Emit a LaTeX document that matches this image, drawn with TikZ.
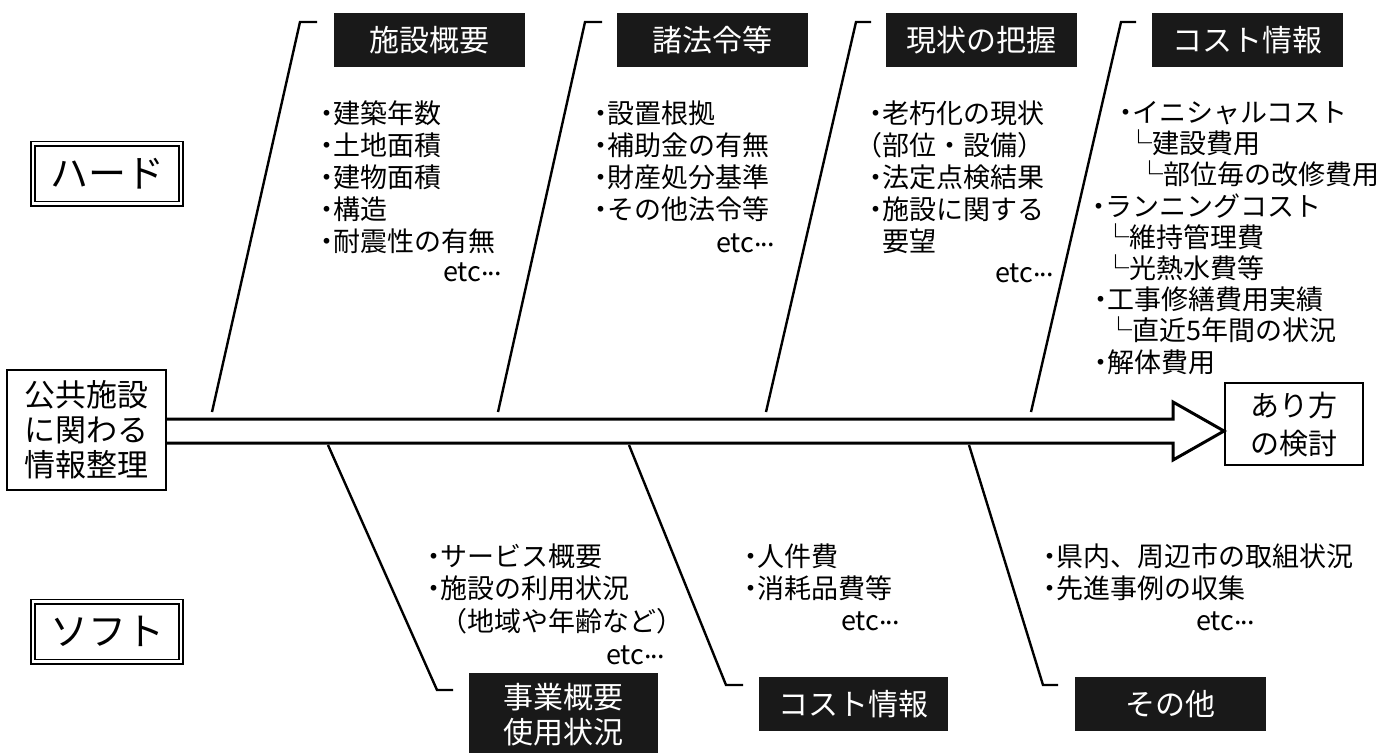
\documentclass[tikz,border=0pt]{standalone}
\usepackage{fontspec}
\setmainfont{Noto Sans CJK JP}
\usetikzlibrary{positioning}
\tikzset{>=stealth}
\tikzset{
  headbox/.style={fill=black!90, text=white, inner sep=0pt, align=center,
    minimum width=95.5pt, minimum height=27pt, font=\fontsize{15}{17.5}\selectfont},
  itemtext/.style={anchor=north west, inner sep=0pt, align=left,
    font=\fontsize{13.5}{16}\selectfont},
  etctext/.style={anchor=east, inner sep=0pt, font=\fontsize{13.5}{16}\selectfont},
  sidebox/.style={draw, double, line width=0.8pt, double distance=1.4pt,
    minimum width=74pt, minimum height=30pt, inner sep=0pt,
    font=\fontsize{19}{22}\selectfont},
  endbox/.style={draw, line width=1.2pt, align=center, inner sep=0pt},
  bone/.style={line width=1.2pt, line join=miter},
  spine/.style={line width=1.5pt, line join=miter}
}
\newcommand{\jbul}{\makebox[0.5em][c]{・}}
\newcommand{\etcdots}{etc\raisebox{0.2em}{.\kern-0.04em.\kern-0.04em.}}

\begin{document}
\begin{tikzpicture}[x=0.5pt, y=-0.5pt]
    \useasboundingbox (0,0) rectangle (1390,752);
    % set up the boxes
    \node[sidebox] (hard) at (107,173.5) {ハード};
    \node[sidebox] (soft) at (107,631.5) {ソフト};
    \node[endbox, minimum width=79.5pt, minimum height=60pt,
      font=\fontsize{15.5}{17.5}\selectfont] (info) at (86.5,430) {公共施設\\に関わる\\情報整理};
    \node[endbox, minimum width=69pt, minimum height=41pt,
      font=\fontsize{14.5}{19}\selectfont] (goal) at (1294,424) {あり方\\の検討};

    \node[headbox] (T1) at (429.5,40) {施設概要};
    \node[headbox] (T2) at (712,40) {諸法令等};
    \node[headbox] (T3) at (981,40) {現状の把握};
    \node[headbox] (T4) at (1247,40) {コスト情報};
    \node[headbox, minimum width=94.5pt, minimum height=41.5pt] (B1) at (563.5,714.5) {事業概要\\使用状況};
    \node[headbox, minimum width=94.5pt] (B2) at (853.5,704) {コスト情報};
    \node[headbox, minimum width=95.5pt] (B3) at (1170.5,704) {その他};

    % the spine
    \coordinate (sT) at (0,419);
    \coordinate (sB) at (0,443);
    \coordinate (hT) at (1173,402);
    \coordinate (hB) at (1173,460);
    \coordinate (tip) at (1224,431);
    \draw[spine] (info.east |- sT) -- (hT |- sT) -- (hT) -- (tip) -- (hB) -- (hB |- sB) -- (info.east |- sB);

    % bones above
    \coordinate (u1) at (212,412);  \coordinate (c1) at (300,22);
    \coordinate (u2) at (498,412);  \coordinate (c2) at (585,22);
    \coordinate (u3) at (766,412);  \coordinate (c3) at (856,22);
    \coordinate (u4) at (1031,412); \coordinate (c4) at (1121,22);
    \draw[bone] (u1) -- (c1) -- ++(17,0);
    \draw[bone] (u2) -- (c2) -- ++(17,0);
    \draw[bone] (u3) -- (c3) -- ++(15,0);
    \draw[bone] (u4) -- (c4) -- ++(15,0);

    % bones below
    \coordinate (l1) at (328,445);  \coordinate (d1) at (437,690);
    \coordinate (l2) at (629,445);  \coordinate (d2) at (726,685);
    \coordinate (l3) at (969,445);  \coordinate (d3) at (1043,685);
    \draw[bone] (l1) -- (d1) -- ++(16,0);
    \draw[bone] (l2) -- (d2) -- ++(17,0);
    \draw[bone] (l3) -- (d3) -- ++(15,0);

    % the lists
    \node[itemtext] (L1) at (319.5,100) {\jbul 建築年数\\\jbul 土地面積\\\jbul 建物面積\\\jbul 構造\\\jbul 耐震性の有無};
    \node[etctext] (E1) at (502,272) {\etcdots};
    \node[itemtext] (L2) at (593.5,100) {\jbul 設置根拠\\\jbul 補助金の有無\\\jbul 財産処分基準\\\jbul その他法令等};
    \node[etctext] (E2) at (775,243) {\etcdots};
    \node[itemtext] (L3) at (868.5,100) {\jbul 老朽化の現状\\\hspace*{-0.5em}（部位・設備）\\\jbul 法定点検結果\\\jbul 施設に関する\\\hspace*{0.5em}要望};
    \node[etctext] (E3) at (1054,273) {\etcdots};
    \node[itemtext, font=\fontsize{13.5}{15.6}\selectfont] (L4) at (1091.5,101) {%
      \hspace*{13.5pt}\jbul イニシャルコスト\\
      \hspace*{17pt}└建設費用\\
      \hspace*{22.5pt}└部位毎の改修費用\\
      \jbul ランニングコスト\\
      \hspace*{5.5pt}└維持管理費\\
      \hspace*{5.5pt}└光熱水費等\\
      \hspace*{1pt}\jbul 工事修繕費用実績\\
      \hspace*{6.75pt}└直近5年間の状況\\
      \hspace*{1pt}\jbul 解体費用};

    \node[itemtext, font=\fontsize{13.5}{16.25}\selectfont] (L5) at (426.5,543) {\jbul サービス概要\\\jbul 施設の利用状況\\\hspace*{0.5em}（地域や年齢など）};
    \node[etctext] (E5) at (665,655) {\etcdots};
    \node[itemtext, font=\fontsize{13.5}{16.25}\selectfont] (L6) at (743.5,543) {\jbul 人件費\\\jbul 消耗品費等};
    \node[etctext] (E6) at (900,621) {\etcdots};
    \node[itemtext, font=\fontsize{13.5}{16.25}\selectfont] (L7) at (1042.5,543) {\jbul 県内、周辺市の取組状況\\\jbul 先進事例の収集};
    \node[etctext] (E7) at (1255,621) {\etcdots};
\end{tikzpicture}
\end{document}
